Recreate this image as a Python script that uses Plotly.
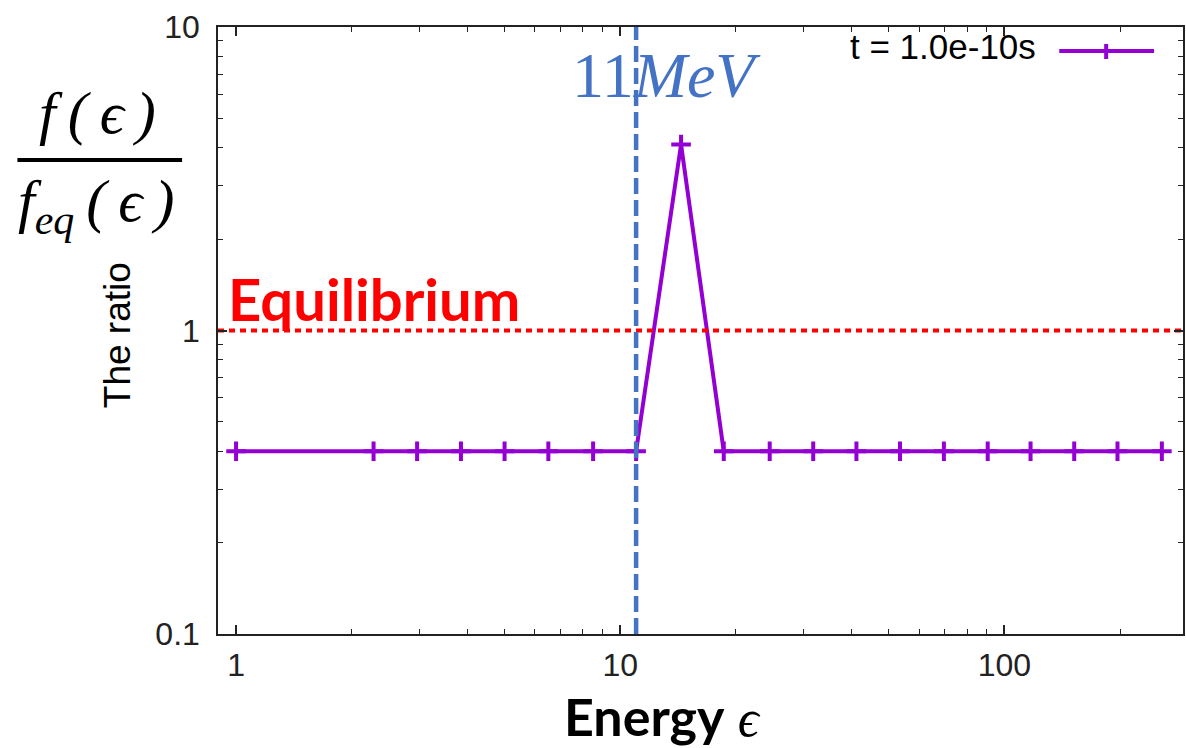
import plotly.graph_objects as go
import math

# ---- data ----
energy = [1.0, 2.28, 2.96, 3.85, 5.0, 6.5, 8.5, 11.0, 14.4, 18.6, 24.5,
          31.8, 41.2, 53.5, 69.6, 90.5, 117, 152, 197, 257]
ratio = [0.4, 0.4, 0.4, 0.4, 0.4, 0.4, 0.4, 0.4, 4.1, 0.4, 0.4,
         0.4, 0.4, 0.4, 0.4, 0.4, 0.4, 0.4, 0.4, 0.4]
series_name = "t = 1.0e-10s"
marker_energy = 11          # MeV, vertical dashed line
equilibrium = 1.0           # horizontal dotted line
x_range_log = [-0.047, 2.465]
y_range_log = [-1, 1]

W, H = 1186, 748
L, R, T, B = 218, 1, 27, 114
PW, PH = W - L - R, H - T - B


def px(x):
    return (x - L) / PW


def py(y):
    return (H - B - y) / PH


PURPLE = "#9400D3"
BLUE = "#4472C4"
RED = "#FF0000"
AX = "#222222"

fig = go.Figure()

fig.add_trace(go.Scatter(
    x=energy, y=ratio, mode="lines+markers", name=series_name,
    line=dict(color=PURPLE, width=4),
    marker=dict(symbol="cross-thin", size=14, color=PURPLE,
                line=dict(color=PURPLE, width=4)),
    showlegend=False, hoverinfo="skip"))

# equilibrium dotted line
fig.add_trace(go.Scatter(
    x=[10 ** x_range_log[0], 10 ** x_range_log[1]], y=[equilibrium, equilibrium],
    mode="lines", line=dict(color=RED, width=4, dash="6px,5px"),
    showlegend=False, hoverinfo="skip"))

# 11 MeV dashed line
fig.add_trace(go.Scatter(
    x=[marker_energy, marker_energy], y=[10 ** y_range_log[0], 10 ** y_range_log[1]],
    mode="lines", line=dict(color=BLUE, width=4.5, dash="16px,6px"),
    showlegend=False, hoverinfo="skip"))

axis_common = dict(
    type="log", showline=True, linecolor=AX, linewidth=1.5, mirror="ticks",
    ticks="inside", ticklen=9, tickwidth=1.5, tickcolor=AX,
    tick0=0, dtick=1, showgrid=False, zeroline=False,
    tickfont=dict(family="Liberation Sans, Arial", size=32, color=AX),
    minor=dict(ticks="inside", ticklen=5, tickwidth=1.2, tickcolor=AX,
               dtick="D1", showgrid=False),
)

fig.update_layout(
    width=W, height=H, autosize=False,
    margin=dict(l=L, r=R, t=T, b=B, pad=0),
    paper_bgcolor="white", plot_bgcolor="white",
    xaxis=dict(range=x_range_log, ticklabelstandoff=2, **axis_common),
    yaxis=dict(range=y_range_log, ticklabelstandoff=10, **axis_common),
    showlegend=False,
)

ann = []
# legend text
ann.append(dict(text=series_name, x=px(1040), y=py(46), xref="paper", yref="paper",
                xanchor="right", yanchor="middle", showarrow=False,
                font=dict(family="Liberation Sans, Arial", size=35, color="black")))
# y title
ann.append(dict(text="The ratio", x=px(117), y=py(335), xref="paper", yref="paper",
                xanchor="center", yanchor="middle", showarrow=False, textangle=-90,
                font=dict(family="Liberation Sans, Arial", size=37, color="black")))
# fraction
ann.append(dict(text="<i>f\u2009(\u2009ϵ\u2009)</i>", x=px(97), y=py(113), xref="paper", yref="paper",
                xanchor="center", yanchor="middle", showarrow=False,
                font=dict(family="Liberation Serif, DejaVu Serif", size=60, color="black")))
ann.append(dict(text="<i>f<sub>eq</sub>\u2009(\u2009ϵ\u2009)</i>",
                x=px(96), y=py(205), xref="paper", yref="paper",
                xanchor="center", yanchor="middle", showarrow=False,
                font=dict(family="Liberation Serif, DejaVu Serif", size=60, color="black")))
# 11 MeV
ann.append(dict(text="11<i>MeV</i>", x=px(571), y=py(76), xref="paper", yref="paper",
                xanchor="left", yanchor="middle", showarrow=False,
                font=dict(family="Liberation Serif, DejaVu Serif", size=64, color=BLUE)))
# Equilibrium
ann.append(dict(text="<b>Equilibrium</b>", x=px(226), y=py(298), xref="paper", yref="paper",
                xanchor="left", yanchor="middle", showarrow=False,
                font=dict(family="Lato, Liberation Sans", size=58, color=RED)))
# x title
ann.append(dict(text="<b>Energy</b> <span style='font-family:Liberation Serif'><i>ϵ</i></span>",
                x=px(663), y=py(716), xref="paper", yref="paper",
                xanchor="center", yanchor="middle", showarrow=False,
                font=dict(family="Lato, Liberation Sans", size=52, color="black")))
fig.update_layout(annotations=ann)

shapes = [
    # fraction bar
    dict(type="line", xref="paper", yref="paper", x0=px(17), x1=px(182), y0=py(160), y1=py(160),
         line=dict(color="black", width=4)),
    # legend sample line
    dict(type="line", xref="paper", yref="paper", x0=px(1061), x1=px(1156), y0=py(51), y1=py(51),
         line=dict(color=PURPLE, width=4)),
    dict(type="line", xref="paper", yref="paper", x0=px(1108), x1=px(1108), y0=py(44), y1=py(59),
         line=dict(color=PURPLE, width=4)),
]
fig.update_layout(shapes=shapes)

fig.write_html("out.html")
